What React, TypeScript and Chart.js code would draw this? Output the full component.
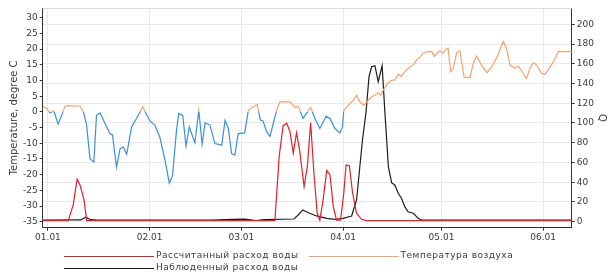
import React, { useEffect, useRef } from 'react';
import { Chart, registerables } from 'chart.js';

Chart.register(...registerables);

// ---- data (day offset from 01.01) ----
const MONTH_DAYS = [0, 31, 59, 90, 120, 151];
const MONTH_LABELS = ['01.01', '02.01', '03.01', '04.01', '05.01', '06.01'];

const TEMP_DAYS = [
  -1.6, -0.4, 0.6, 1.8, 3.1, 4.2, 5.2, 6.2, 9.8, 10.8, 11.8, 12.8, 14, 14.8, 15.9, 17.4, 18.9, 19.7, 20.9, 22, 23, 24,
  25.5, 27, 28.9, 29.9, 31.1, 32.6, 34.1, 35.7, 37, 38, 39.2, 39.9, 41.1, 42.1, 43.1, 44.8, 46, 47, 47.9, 49.4, 50.9, 53,
  54, 55, 56, 57, 58, 60, 61.1, 62.6, 63.8, 64.8, 65.6, 66.7, 67.7, 68.7, 69.7, 70.7, 73.8, 75.3, 76.3, 77.8, 79.1, 80.1,
  81.4, 82.9, 84.8, 86, 87.5, 89, 89.8, 90.2, 91.6, 93.1, 94.1, 95.1, 96.3, 97.7, 98.7, 99.7, 100.7, 101.4, 102.4, 103.8,
  104.8, 105.8, 106.8, 107.8, 108.8, 110.4, 111.4, 112.4, 113.4,
  114.4, 115.9, 117, 117.8, 118.7, 119.5, 120.5, 121.3, 122, 122.8, 123.6, 124.6, 125.6, 126.9, 128.7, 129.7, 130.7,
  132.2, 133.9, 135.3, 137, 138.8, 139.8, 140.9, 142.4, 143.4, 144.4, 145.9, 147, 148, 149, 150.5, 151.5, 152.5, 154.1,
  155.6, 160.2,
];
const TEMP_VALUES = [
  1.8, 1.1, -0.3, 0.3, -3.9, -1.1, 1.8, 2.0, 1.8, 0, -4.2, -14.9, -16, -1.1, -0.3, -3.7, -6.9, -7.4, -17.6, -11.7, -11.2,
  -13.5, -4.8, -2.1, 1.6, -0.5, -2.9, -4.2, -8, -15.4, -22.7, -20.2, -5.8, -0.5, -1.1, -10.9, -4.8, -9.9, 0.5, -10.3,
  -3.5, -4.2, -10.1, -10.6,
  -2.7, -5.3, -13.3, -13.8, -6.9, -6.7, 0.5, 1.6, 2.4, -2.7, -2.9, -6.4, -7.8, -3.7, 0.5, 3.2, 3.2, 1.4, 1.8, -2.1, 0,
  1.4, -2.1, -5.3, -1.4, -2.1, -5.3, -6.7, -4.8, 0.5, 2.1, 3.7, 5.3, 3.2, 2.1, 3.7, 4.8, 5.3, 6.1, 5.3, 7.2, 9.3, 10.1,
  10.1, 12, 11.4, 12.8, 14.4, 14.9, 16.5, 17.4,
  18.7, 19.2, 19.2, 17.6, 18.7, 19.5, 18.7, 19.9, 20.3, 12.8, 13.9, 18.8, 19.5, 11, 11, 15.5, 17.8, 14.9, 12.5, 14.4,
  17.6, 22.4, 20.3, 14.9, 13.9, 14.6, 13.1, 10.7, 13.9, 15.7, 14.9, 12.3, 12, 13.3, 16, 19.2, 19.2,
];

const CALC_DAYS = [
  -1.6, 6.2, 7.7, 8.9, 9.8, 11, 11.8, 69.2, 70.5, 71.7, 72.8, 73.8, 74.8, 75.8, 76.8, 78.1, 79.1, 80.1, 81.1, 82.1,
  82.9, 83.9, 85, 86, 87, 88, 89.2, 90.2, 90.9, 91.9, 92.9, 94.1, 95.6, 97, 160.2,
];
const CALC_VALUES = [
  1, 1, 17, 43, 37, 22, 1, 1, 65.9, 97, 99.7, 91.2, 69.3, 90.2, 70.9, 35.5, 55.7, 100.3, 49, 8.5,
  1.5, 22, 51.7, 47.3, 15.2, 1.5, 1.5, 28.8, 57.4, 56.7, 28.8, 8.5, 2.4, 1, 1,
];

const OBS_DAYS = [
  -1.6, 10, 11.5, 13, 15, 50, 56, 60, 63.5, 66, 75, 76.3, 77.7, 79.4, 81.9, 85, 87.5, 90, 92.6, 94.1, 95.9, 97, 97.9,
  98.7, 99.7, 100.7, 101.9, 102.7, 103.8, 104.8, 105.8, 106.8, 107.8, 108.8, 109.8, 111.4, 112.9, 113.9, 160.2,
];
const OBS_VALUES = [
  1.7, 1.8, 4.5, 2, 1.7, 1.7, 2.4, 2.6, 1.2, 2, 2.7, 6.8, 11.9, 9.1, 5.8, 3.4, 2.4, 3.4, 5.8, 22, 82.8, 111.4, 146.9,
  157, 158, 141.8, 158, 113, 55.7, 39.5, 37, 28.8, 23.7, 15.2, 10.1, 8.5, 3.4, 1.7, 1.7,
];

const LABEL_CALC = 'Рассчитанный расход воды';
const LABEL_TEMP = 'Температура воздуха';
const LABEL_OBS = 'Наблюденный расход воды';

const ORANGE = '#f4a26f';
const BLUE = '#3b8ee0';
const RED = '#e51f2a';
const BLACK = '#1c1c1c';
const FONT = '"DejaVu Sans", Verdana, sans-serif';
const TEXT = '#3a3a3a';

const toPts = (xs: number[], ys: number[]) => xs.map((x, i) => ({ x, y: ys[i] }));

const legendPlugin = {
  id: 'customLegend',
  afterDraw(chart: any) {
    const ctx = chart.ctx;
    ctx.save();
    ctx.font = `9px ${FONT}`;
    try { (ctx as any).letterSpacing = '0.5px'; } catch (e) { /* ignore */ }
    ctx.textBaseline = 'middle';
    ctx.textAlign = 'left';
    const lineLen = 90;
    const startX = 64;
    const row1 = 256;
    const row2 = 268;
    const drawItem = (x: number, y: number, color: string, label: string) => {
      ctx.strokeStyle = color;
      ctx.lineWidth = 1;
      ctx.beginPath();
      ctx.moveTo(x, y + 0.5);
      ctx.lineTo(x + lineLen, y + 0.5);
      ctx.stroke();
      ctx.fillStyle = TEXT;
      ctx.fillText(label, x + lineLen + 2, y);
      return x + lineLen + 2 + ctx.measureText(label).width;
    };
    const end1 = drawItem(startX, row1, RED, LABEL_CALC);
    drawItem(end1 + 10, row1, ORANGE, LABEL_TEMP);
    drawItem(startX, row2, BLACK, LABEL_OBS);
    ctx.restore();
  },
};

const topBorderPlugin = {
  id: 'topBorder',
  beforeDatasetsDraw(chart: any) {
    const { ctx, chartArea } = chart;
    ctx.save();
    ctx.strokeStyle = '#dcdcdc';
    ctx.lineWidth = 1;
    ctx.beginPath();
    ctx.moveTo(chartArea.left, Math.round(chartArea.top) + 0.5);
    ctx.lineTo(chartArea.right, Math.round(chartArea.top) + 0.5);
    ctx.stroke();
    ctx.restore();
  },
};

export default function App() {
  const ref = useRef<HTMLCanvasElement | null>(null);

  useEffect(() => {
    document.body.style.margin = '0';
    if (!ref.current) return;
    const tempColor = (c: any) => {
      const chart = c.chart;
      const { chartArea, scales } = chart;
      if (!chartArea || !scales.y) return ORANGE;
      const y0 = scales.y.getPixelForValue(0);
      const r = Math.min(1, Math.max(0, (y0 - chartArea.top) / (chartArea.bottom - chartArea.top)));
      const g = chart.ctx.createLinearGradient(0, chartArea.top, 0, chartArea.bottom);
      g.addColorStop(0, ORANGE);
      g.addColorStop(r, ORANGE);
      g.addColorStop(r, BLUE);
      g.addColorStop(1, BLUE);
      return g;
    };

    const chart = new Chart(ref.current, {
      type: 'line',
      data: {
        datasets: [
          {
            label: LABEL_TEMP,
            data: toPts(TEMP_DAYS, TEMP_VALUES),
            yAxisID: 'y',
            borderColor: tempColor,
            borderWidth: 1.2,
            pointRadius: 0,
            tension: 0,
          },
          {
            label: LABEL_CALC,
            data: toPts(CALC_DAYS, CALC_VALUES),
            yAxisID: 'y1',
            borderColor: RED,
            borderWidth: 1.2,
            pointRadius: 0,
            tension: 0,
          },
          {
            label: LABEL_OBS,
            data: toPts(OBS_DAYS, OBS_VALUES),
            yAxisID: 'y1',
            borderColor: BLACK,
            borderWidth: 1.2,
            pointRadius: 0,
            tension: 0,
          },
        ],
      },
      options: {
        animation: false,
        responsive: false,
        layout: { padding: { top: 8, bottom: 36, left: 0, right: 0 } },
        plugins: { legend: { display: false }, tooltip: { enabled: false } },
        scales: {
          x: {
            type: 'linear',
            min: -1.6,
            max: 159.7,
            afterBuildTicks: (scale: any) => {
              scale.ticks = MONTH_DAYS.map((v) => ({ value: v }));
            },
            afterFit: (scale: any) => {
              scale.height = 16.3;
            },
            ticks: {
              autoSkip: false,
              maxRotation: 0,
              font: { family: FONT, size: 9 },
              color: TEXT,
              padding: 2,
              callback: (_v: any, i: number) => MONTH_LABELS[i],
            },
            grid: { color: '#e9e9e9', tickLength: 3, tickColor: '#333' },
            border: { color: '#333', width: 1 },
          },
          y: {
            position: 'left',
            min: -36.9,
            max: 33.1,
            afterBuildTicks: (scale: any) => {
              const t = [];
              for (let v = -35; v <= 30; v += 5) t.push({ value: v });
              scale.ticks = t;
            },
            afterFit: (scale: any) => {
              scale.width = 42.7;
            },
            ticks: { font: { family: FONT, size: 9 }, color: TEXT, padding: 2 },
            grid: { drawOnChartArea: false, tickLength: 3, tickColor: '#333' },
            border: { color: '#333', width: 1 },
            title: {
              display: true,
              text: 'Temperature, degree C',
              font: { family: FONT, size: 10 },
              color: TEXT,
              padding: { top: 8, bottom: 0 },
            },
          },
          y1: {
            position: 'right',
            min: -6.1,
            max: 216.5,
            afterBuildTicks: (scale: any) => {
              const t = [];
              for (let v = 0; v <= 200; v += 20) t.push({ value: v });
              scale.ticks = t;
            },
            afterFit: (scale: any) => {
              scale.width = 42.3;
            },
            ticks: { font: { family: FONT, size: 9 }, color: TEXT, padding: 2 },
            grid: { color: '#e9e9e9', tickLength: 3, tickColor: '#333' },
            border: { color: '#333', width: 1 },
            title: {
              display: true,
              text: 'Q',
              font: { family: FONT, size: 10 },
              color: TEXT,
              padding: { top: 6, bottom: 0 },
            },
          },
        },
      },
      plugins: [topBorderPlugin, legendPlugin],
    } as any);
    return () => chart.destroy();
  }, []);

  return <canvas ref={ref} width={614} height={280} style={{ display: 'block' }} />;
}
